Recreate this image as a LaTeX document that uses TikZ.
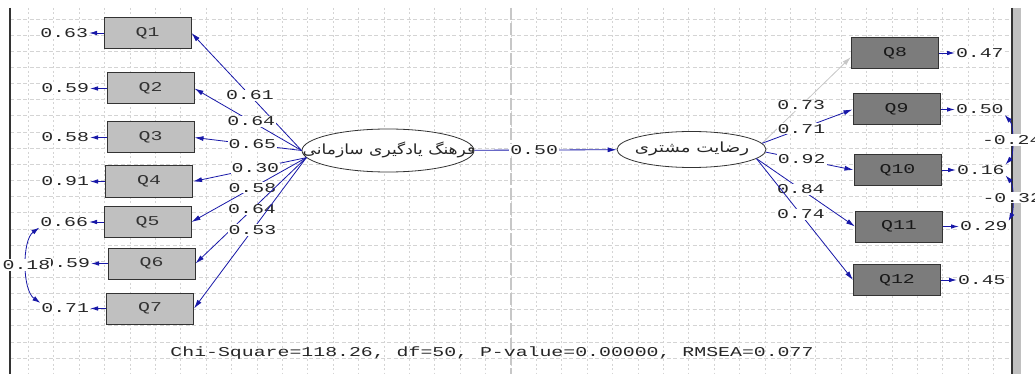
\documentclass[tikz,border=0pt]{standalone}
\usepackage{fontspec}
\usetikzlibrary{arrows.meta,shapes.geometric}
\TeXXeTstate=1
\newfontfamily\lisfont[FakeStretch=1.47]{Liberation Mono}
\newfontfamily\farsiwide[Script=Arabic,FakeStretch=1.22]{DejaVu Sans}
\newfontfamily\farsi[Script=Arabic,FakeStretch=1.3]{DejaVu Sans}
\definecolor{pathblue}{RGB}{24,24,168}
\definecolor{lightbox}{RGB}{192,192,192}
\definecolor{darkbox}{RGB}{124,124,124}
\definecolor{gridgray}{RGB}{212,212,212}
\definecolor{framegray}{RGB}{192,192,192}
\tikzset{
  gridv/.style={gridgray, line width=0.8pt, dash pattern=on 2pt off 2.5pt},
  gridh/.style={gridgray, line width=0.8pt, dash pattern=on 4pt off 2.5pt},
  obsL/.style={draw=black!80, line width=1pt, fill=lightbox, minimum width=87pt,
    minimum height=31pt, inner sep=0pt, text=black!80,
    font=\lisfont\fontsize{13.5}{14}\selectfont},
  obsR/.style={obsL, fill=darkbox, text=black!90},
  latent/.style={ellipse, draw=black!80, line width=0.8pt, fill=white, inner sep=0pt},
  lbl/.style={fill=white, inner sep=1pt, text=black!85,
    font=\lisfont\fontsize{13.5}{14}\selectfont},
  errlbl/.style={lbl, inner sep=0.8pt},
  load/.style={draw=pathblue, line width=0.8pt, -{Latex[length=9pt,width=5pt]}},
  faded/.style={draw=black!22, line width=0.8pt, -{Latex[length=9pt,width=5pt]}},
  errarrow/.style={draw=pathblue, line width=0.9pt, -{Latex[length=8pt,width=4.5pt]}},
  corr/.style={draw=pathblue, line width=0.8pt,
    {Latex[length=8pt,width=5pt]}-{Latex[length=8pt,width=5pt]}},
  farsitext/.style={inner sep=0pt, text=black!85}
}
\begin{document}
\begin{tikzpicture}[x=1pt, y=-1pt]
\useasboundingbox (0,0) rectangle (1035,374);
\fill[white] (0,0) rectangle (1035,374);

% background grid
\foreach \k in {-19,...,19}
  \draw[gridv] ({511+\k*25.4},8) -- ({511+\k*25.4},374);
\foreach \k in {0,...,21}
  \draw[gridh] (10,{19+\k*16.15}) -- (1012,{19+\k*16.15});
\draw[black!22, line width=1.6pt, dash pattern=on 12pt off 3pt] (511,8) -- (511,374);

% frame
\draw[black!80, line width=1.3pt] (10,8) -- (10,374);
\fill[framegray] (1013,8) rectangle (1021,374);
\draw[black!80, line width=1.3pt] (1012,8) -- (1012,374);

% observed variables
\node[obsL] (Q1) at (147.5,33) {Q1};
\node[obsL] (Q2) at (150.5,88.5) {Q2};
\node[obsL] (Q3) at (150.5,137.5) {Q3};
\node[obsL] (Q4) at (149,181.5) {Q4};
\node[obsL] (Q5) at (147.5,222) {Q5};
\node[obsL] (Q6) at (151.5,263.5) {Q6};
\node[obsL] (Q7) at (150,308.5) {Q7};
\node[obsR] (Q8) at (895,53) {Q8};
\node[obsR] (Q9) at (896.5,109.5) {Q9};
\node[obsR] (Q10) at (897.5,170) {Q10};
\node[obsR] (Q11) at (899,226.5) {Q11};
\node[obsR] (Q12) at (897,280) {Q12};

% latent variables
\node[latent, minimum width=172pt, minimum height=43pt] (L) at (388,150.5) {};
\node[farsitext, font=\farsiwide\fontsize{14}{15}\selectfont] at (389,150) {\beginR فرهنگ یادگیری سازمانی\endR};
\node[latent, minimum width=149pt, minimum height=36pt] (R) at (691.5,149.5) {};
\node[farsitext, font=\farsi\fontsize{14}{15}\selectfont] at (692,149) {\beginR رضایت مشتری\endR};

% error variances
\node[errlbl, anchor=east] (e1) at (89,33) {0.63};
\node[errlbl, anchor=east] (e2) at (90,88.5) {0.59};
\node[errlbl, anchor=east] (e3) at (90,137.5) {0.58};
\node[errlbl, anchor=east] (e4) at (90,181.5) {0.91};
\node[errlbl, anchor=east] (e5) at (89,222) {0.66};
\node[errlbl, anchor=east] (e6) at (91,263.5) {0.59};
\node[errlbl, anchor=east] (e7) at (90,308.5) {0.71};
\node[errlbl, anchor=west] (e8) at (955,53) {0.47};
\node[errlbl, anchor=west] (e9) at (955,109.5) {0.50};
\node[errlbl, anchor=west] (e10) at (956,170) {0.16};
\node[errlbl, anchor=west] (e11) at (959,226.5) {0.29};
\node[errlbl, anchor=west] (e12) at (957,280) {0.45};

\foreach \i in {1,...,12}
  \draw[errarrow] (Q\i) -- (e\i);

% loadings
\draw[load] (L.west) -- node[lbl, pos=0.47] {0.61} (Q1.east);
\draw[load] (L.west) -- node[lbl, pos=0.47] {0.64} (Q2.east);
\draw[load] (L.west) -- node[lbl, pos=0.46] {0.65} (Q3.east);
\draw[load] (L.185) -- node[lbl, pos=0.45] {0.30} (Q4.east);
\draw[load] (L.185) -- node[lbl, pos=0.47] {0.58} (Q5.east);
\draw[load] (L.185) -- node[lbl, pos=0.49] {0.64} (Q6.east);
\draw[load] (L.185) -- node[lbl, pos=0.48] {0.53} (Q7.east);

\draw[load] (L) -- node[lbl, pos=0.42] {0.50} (R);

\draw[faded] (R.5) -- node[lbl, pos=0.44] {0.73} ([yshift=-4pt]Q8.west);
\draw[load] (R.5) -- node[lbl, pos=0.435] {0.71} (Q9.west);
\draw[load] (R.-2) -- node[lbl, pos=0.41] {0.92} (Q10.west);
\draw[load] (R.-8) -- node[lbl, pos=0.45] {0.84} (Q11.west);
\draw[load] (R.-8) -- node[lbl, pos=0.46] {0.74} (Q12.west);

% error covariances
\draw[corr] (e5.south west) .. controls (22,240) and (22,290) .. node[lbl, pos=0.5] {0.18} (e7.north west);
\draw[corr] (e9.south east) .. controls (1014,125) and (1014,155) .. node[lbl, pos=0.5] {-0.24} (e10.north east);
\draw[corr] (e10.south east) .. controls (1014,185) and (1014,210) .. node[lbl, pos=0.5] {-0.32} (e11.north east);

% fit statistics
\node[text=black!85, inner sep=0pt, font=\lisfont\fontsize{13.5}{14}\selectfont] (fit) at (492,353)
  {Chi-Square=118.26, df=50, P-value=0.00000, RMSEA=0.077};
\end{tikzpicture}
\end{document}
